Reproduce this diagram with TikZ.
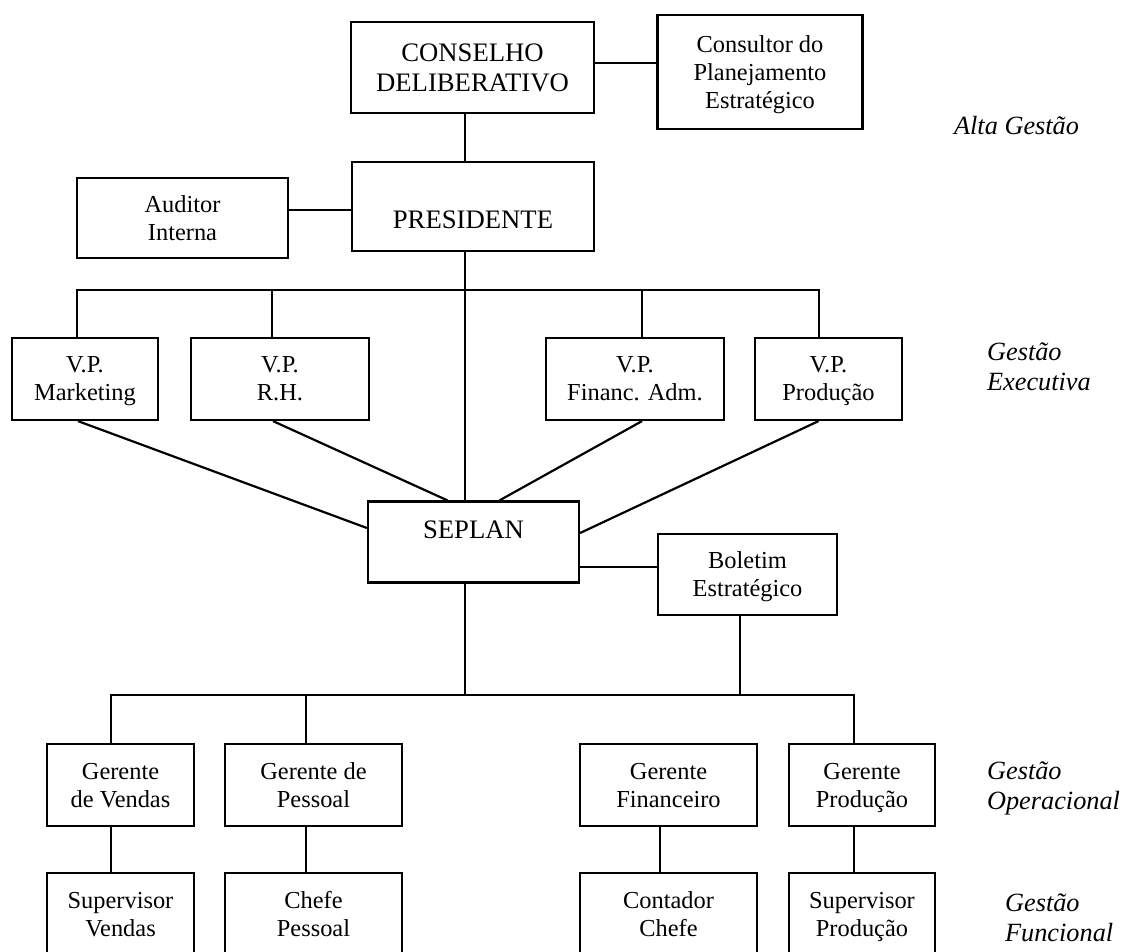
\documentclass[tikz,border=0pt]{standalone}
\usepackage{fontspec}
\setmainfont{Liberation Serif}
\begin{document}
\begin{tikzpicture}[x=1pt, y=-1pt, line width=2.2pt,
    every node/.style={align=center, inner sep=0pt, font=\fontsize{24.4}{28}\selectfont},
    box/.style={draw, minimum height=82pt, text depth=0pt},
    big/.style={font=\fontsize{26.7}{30}\selectfont},
    level/.style={anchor=west, align=left, font=\fontsize{26.3}{30}\selectfont\itshape}]
    \useasboundingbox (0,0) rectangle (1125,951);
    \clip (0,0) rectangle (1125,951);
    \coordinate (spine) at (465,0);
    \coordinate (bus1) at (465,290);
    \coordinate (bus2) at (465,695);
    % Alta gestao
    \node[box, big, minimum width=243pt, minimum height=91pt] (cons) at (472.5,67.5) {CONSELHO\\DELIBERATIVO};
    \node[box, minimum width=205pt, minimum height=114pt] (cplan) at (760,72) {Consultor do\\Planejamento\\Estratégico};
    \node[box, minimum width=242pt, minimum height=89pt] (pres) at (473,206.5) {};
    \node[big] (presT) at (473,220) {PRESIDENTE};
    \node[box, minimum width=211pt, minimum height=80pt] (aud) at (182.5,218) {Auditor\\Interna};
    % Gestao executiva
    \node[box, minimum width=146pt] (vpm) at (85,379) {V.P.\\Marketing};
    \node[box, minimum width=178pt] (vprh) at (280,379) {V.P.\\R.H.};
    \node[box, minimum width=178pt] (vpfa) at (635,379) {V.P.\\Financ. Adm.};
    \node[box, minimum width=147pt] (vpp) at (828.5,379) {V.P.\\Produção};
    \node[box, minimum width=211pt, minimum height=81pt] (seplan) at (473.5,542) {};
    \node[big] (sepT) at (473.5,530) {SEPLAN};
    \node[box, minimum width=179pt, minimum height=81pt] (bolet) at (747.5,574.5) {Boletim\\Estratégico};
    % Gestao operacional e funcional
    \node[box, minimum width=147pt] (gv) at (120.5,785) {Gerente\\de Vendas};
    \node[box, minimum width=177pt] (gp) at (313.5,785) {Gerente de\\Pessoal};
    \node[box, minimum width=177pt] (gf) at (668.5,785) {Gerente\\Financeiro};
    \node[box, minimum width=146pt] (gpr) at (862,785) {Gerente\\Produção};
    \node[box, minimum width=147pt] (sv) at (120.5,914) {Supervisor\\Vendas};
    \node[box, minimum width=177pt] (cp) at (313.5,914) {Chefe\\Pessoal};
    \node[box, minimum width=177pt] (cc) at (668.5,914) {Contador\\Chefe};
    \node[box, minimum width=146pt] (spr) at (862,914) {Supervisor\\Produção};
    % Niveis
    \node[level] (alta) at (953,126) {Alta Gestão};
    \node[level] (exec) at (986,367) {Gestão\\Executiva};
    \node[level] (oper) at (986,788) {Gestão\\Operacional};
    \node[level] (func) at (1004,918) {Gestão\\Funcional};
    % Ligacoes
    \draw (cons.east |- 0,63) -- (cplan.west |- 0,63);
    \draw (cons.south -| spine) -- (pres.north -| spine);
    \draw (aud.east |- 0,210) -- (pres.west |- 0,210);
    \draw (pres.south -| spine) -- (seplan.north -| spine);
    \draw (vpm.north -| 77,0) -- (bus1 -| 77,0) -- (bus1 -| 819,0) -- (vpp.north -| 819,0);
    \draw (bus1 -| 272,0) -- (vprh.north -| 272,0);
    \draw (bus1 -| 642,0) -- (vpfa.north -| 642,0);
    \draw ([xshift=-7pt]vpm.south) -- ([yshift=14pt]seplan.west);
    \draw ([xshift=-7pt]vprh.south) -- ([xshift=-26pt]seplan.north);
    \draw ([xshift=7pt]vpfa.south) -- ([xshift=26pt]seplan.north);
    \draw ([xshift=-10pt]vpp.south) -- ([yshift=9pt]seplan.east);
    \draw (seplan.east |- 0,567) -- (bolet.west |- 0,567);
    \draw (seplan.south -| spine) -- (bus2);
    \draw (bolet.south -| 740,0) -- (bus2 -| 740,0);
    \draw (gv.north -| 111,0) -- (bus2 -| 111,0) -- (bus2 -| 854,0) -- (gpr.north -| 854,0);
    \draw (bus2 -| 306,0) -- (gp.north -| 306,0);
    \draw (gv.south -| 111,0) -- (sv.north -| 111,0);
    \draw (gp.south -| 306,0) -- (cp.north -| 306,0);
    \draw (gf.south -| 660,0) -- (cc.north -| 660,0);
    \draw (gpr.south -| 854,0) -- (spr.north -| 854,0);
\end{tikzpicture}
\end{document}
